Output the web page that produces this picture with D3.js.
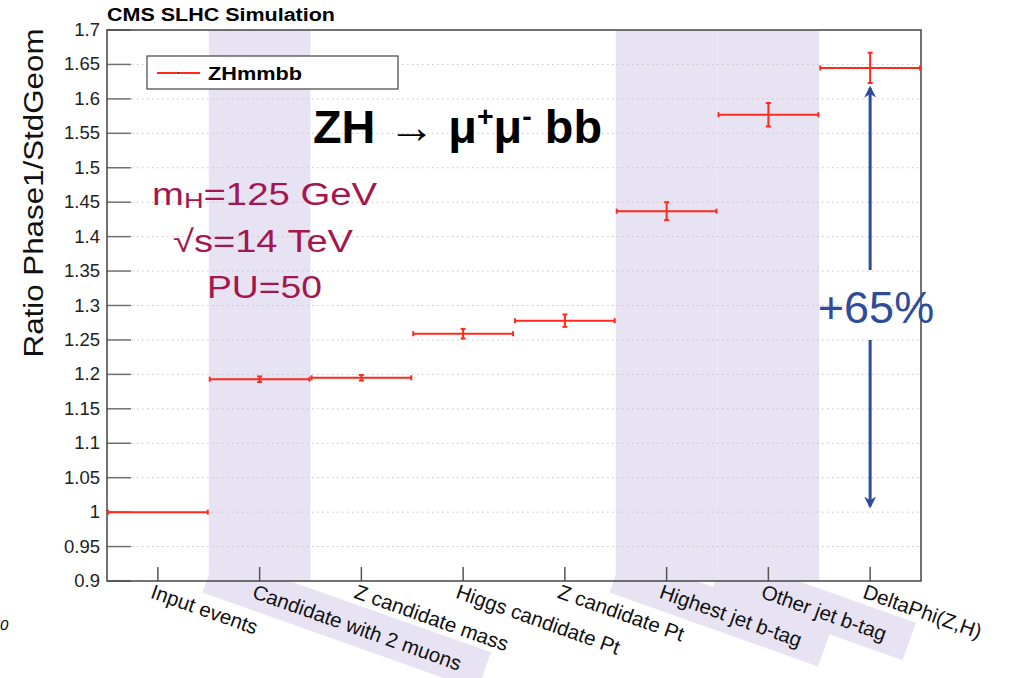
<!DOCTYPE html>
<html>
<head>
<meta charset="utf-8">
<script src="https://cdn.jsdelivr.net/npm/d3@7"></script>
<style>
  body { margin: 0; background: #fff; }
  svg { font-family: "Liberation Sans", Arial, sans-serif; }
</style>
</head>
<body>
<div id="chart"></div>
<script>
// cut-flow steps
const categories = ["Input events", "Candidate with 2 muons", "Z candidate mass",
  "Higgs candidate Pt", "Z candidate Pt", "Highest jet b-tag", "Other jet b-tag", "DeltaPhi(Z,H)"];
const ratio = [1.0, 1.193, 1.195, 1.259, 1.278, 1.437, 1.577, 1.645];
const ratioErr = [0.0, 0.004, 0.004, 0.007, 0.009, 0.013, 0.017, 0.022];
const shaded = ["Candidate with 2 muons", "Highest jet b-tag", "Other jet b-tag"];
const yTicks = [0.9, 0.95, 1, 1.05, 1.1, 1.15, 1.2, 1.25, 1.3, 1.35, 1.4, 1.45, 1.5, 1.55, 1.6, 1.65, 1.7];

var W = 1012, H = 678;
var plotL = 107, plotR = 921, plotT = 30, plotB = 581;
var red = "#ff2a1a", band = "#e7e3f3", blue = "#2f4c9a", crimson = "#a3174e";

var svg = d3.select("#chart").append("svg")
    .attr("width", W)
    .attr("height", H);

var x = d3.scaleBand().domain(categories).range([plotL, plotR]).padding(0);
var y = d3.scaleLinear().domain([0.9, 1.7]).range([plotB, plotT]);
var angle = 19.5;
var cx = function (d) { return x(d) + x.bandwidth() / 2; };

var bandLayer = svg.append("g");
var gridLayer = svg.append("g");

// x labels (drawn first so their lengths are known for the shading)
var xl = svg.append("g").selectAll("text")
    .data(categories)
    .enter().append("text")
    .attr("transform", function (d) {
        return "translate(" + (cx(d) - 3) + "," + (plotB + 1) + ") rotate(" + angle + ")";
    })
    .attr("dy", "0.8em")
    .attr("font-size", 20.5)
    .attr("fill", "#111")
    .text(function (d) { return d; });

var labelLen = {};
xl.each(function (d) { labelLen[d] = this.getComputedTextLength(); });

// shaded bands (plot area + behind rotated labels)
shaded.forEach(function (c) {
    bandLayer.append("rect")
        .attr("x", x(c)).attr("y", plotT)
        .attr("width", x.bandwidth()).attr("height", plotB - plotT)
        .attr("fill", band);
    bandLayer.append("rect")
        .attr("transform", "translate(" + cx(c) + "," + plotB + ") rotate(" + angle + ")")
        .attr("x", -50).attr("y", -10)
        .attr("width", labelLen[c] + 72).attr("height", 40)
        .attr("fill", band);
});

// grid
gridLayer.selectAll("line")
    .data(yTicks.slice(1, -1))
    .enter().append("line")
    .attr("x1", plotL).attr("x2", plotR)
    .attr("y1", function (d) { return y(d); })
    .attr("y2", function (d) { return y(d); })
    .attr("stroke", "#c4c4c4")
    .attr("stroke-width", 1)
    .attr("stroke-dasharray", "1.5,3.5");

// y tick marks
svg.append("g").selectAll("line")
    .data(yTicks)
    .enter().append("line")
    .attr("x1", plotL).attr("x2", plotL + 24)
    .attr("y1", function (d) { return y(d); })
    .attr("y2", function (d) { return y(d); })
    .attr("stroke", "#707070").attr("stroke-width", 1.5);

// y labels
svg.append("g").selectAll("text")
    .data(yTicks)
    .enter().append("text")
    .attr("x", plotL - 7)
    .attr("y", function (d) { return y(d) + 6; })
    .attr("text-anchor", "end")
    .attr("font-size", 18.5)
    .attr("fill", "#222")
    .text(function (d) { return String(+d.toFixed(2)); });

// x ticks
svg.append("g").selectAll("line")
    .data(categories)
    .enter().append("line")
    .attr("x1", cx).attr("x2", cx)
    .attr("y1", plotB).attr("y2", plotB - 14)
    .attr("stroke", "#555").attr("stroke-width", 1.5);

// frame
svg.append("rect")
    .attr("x", plotL).attr("y", plotT)
    .attr("width", plotR - plotL).attr("height", plotB - plotT)
    .attr("fill", "none").attr("stroke", "#444").attr("stroke-width", 1.5);

// data: horizontal bin lines + error bars
var pts = svg.append("g").selectAll("g")
    .data(categories)
    .enter().append("g")
    .attr("stroke", red).attr("stroke-width", 2);

pts.append("line")
    .attr("x1", function (d) { return x(d) + 1; })
    .attr("x2", function (d) { return x(d) + x.bandwidth() - 1; })
    .attr("y1", function (d, i) { return y(ratio[i]); })
    .attr("y2", function (d, i) { return y(ratio[i]); });

[0, 1].forEach(function (side) {
    pts.append("line")
        .attr("x1", function (d) { return x(d) + 1 + side * (x.bandwidth() - 2); })
        .attr("x2", function (d) { return x(d) + 1 + side * (x.bandwidth() - 2); })
        .attr("y1", function (d, i) { return y(ratio[i]) - 2.5; })
        .attr("y2", function (d, i) { return y(ratio[i]) + 2.5; });
});

pts.append("line")
    .attr("x1", cx).attr("x2", cx)
    .attr("y1", function (d, i) { return y(ratio[i] + ratioErr[i]); })
    .attr("y2", function (d, i) { return y(ratio[i] - ratioErr[i]); });

pts.each(function (d, i) {
    if (ratioErr[i] === 0) return;
    var g = d3.select(this);
    [ratio[i] + ratioErr[i], ratio[i] - ratioErr[i]].forEach(function (v) {
        g.append("line")
            .attr("x1", cx(d) - 2.5).attr("x2", cx(d) + 2.5)
            .attr("y1", y(v)).attr("y2", y(v));
    });
});

// title
svg.append("text")
    .attr("x", plotL).attr("y", 21)
    .attr("font-size", 18).attr("font-weight", "bold")
    .attr("textLength", 228).attr("lengthAdjust", "spacingAndGlyphs")
    .text("CMS SLHC Simulation");

// y axis title
svg.append("text")
    .attr("transform", "translate(43,193) rotate(-90)")
    .attr("text-anchor", "middle")
    .attr("font-size", 27)
    .attr("fill", "#111")
    .attr("textLength", 329).attr("lengthAdjust", "spacingAndGlyphs")
    .text("Ratio Phase1/StdGeom");

// legend
var lg = svg.append("g");
lg.append("rect")
    .attr("x", 147).attr("y", 56).attr("width", 251).attr("height", 33)
    .attr("fill", "#fff").attr("stroke", "#444").attr("stroke-width", 1.2);
lg.append("line")
    .attr("x1", 157).attr("x2", 200).attr("y1", 73).attr("y2", 73)
    .attr("stroke", red).attr("stroke-width", 2);
lg.append("line")
    .attr("x1", 178.5).attr("x2", 178.5).attr("y1", 72).attr("y2", 74)
    .attr("stroke", "#333").attr("stroke-width", 1);
lg.append("text")
    .attr("x", 208).attr("y", 80)
    .attr("font-size", 18).attr("font-weight", "bold")
    .attr("textLength", 94).attr("lengthAdjust", "spacingAndGlyphs")
    .text("ZHmmbb");

// process label
var proc = svg.append("text")
    .attr("x", 313).attr("y", 143)
    .attr("font-size", 46).attr("font-weight", "bold")
    .attr("fill", "#000")
    .attr("textLength", 289).attr("lengthAdjust", "spacingAndGlyphs");
proc.append("tspan").text("ZH ");
proc.append("tspan").attr("font-weight", "normal").text("\u2192");
proc.append("tspan").text(" \u03bc");
proc.append("tspan").attr("dy", -17).attr("font-size", 28).text("+");
proc.append("tspan").attr("dy", 17).text("\u03bc");
proc.append("tspan").attr("dy", -17).attr("font-size", 28).text("-");
proc.append("tspan").attr("dy", 17).text(" bb");

// conditions
var cond = svg.append("g").attr("fill", crimson).attr("font-size", 31).attr("text-anchor", "middle");
var c1 = cond.append("text").attr("x", 264.5).attr("y", 205)
    .attr("textLength", 225).attr("lengthAdjust", "spacingAndGlyphs");
c1.append("tspan").text("m");
c1.append("tspan").attr("font-size", 22).attr("dy", 3).text("H");
c1.append("tspan").attr("dy", -3).text("=125 GeV");
cond.append("text").attr("x", 263).attr("y", 252)
    .attr("textLength", 180).attr("lengthAdjust", "spacingAndGlyphs")
    .text("\u221as=14 TeV");
cond.append("text").attr("x", 264.5).attr("y", 298)
    .attr("textLength", 115).attr("lengthAdjust", "spacingAndGlyphs")
    .text("PU=50");

// +65% arrow
var ax = cx(categories[7]);
var yTop = y(ratio[7] - ratioErr[7]) + 5, yBot = y(ratio[0]) - 6;
svg.append("defs").append("marker")
    .attr("id", "ah").attr("viewBox", "0 0 10 10")
    .attr("refX", 8).attr("refY", 5)
    .attr("markerWidth", 4).attr("markerHeight", 4)
    .attr("orient", "auto")
    .append("path").attr("d", "M0,0 L10,5 L0,10 L3,5 Z").attr("fill", blue);
svg.append("line")
    .attr("x1", ax).attr("x2", ax).attr("y1", 270).attr("y2", yTop)
    .attr("stroke", blue).attr("stroke-width", 3).attr("marker-end", "url(#ah)");
svg.append("line")
    .attr("x1", ax).attr("x2", ax).attr("y1", 340).attr("y2", yBot)
    .attr("stroke", blue).attr("stroke-width", 3).attr("marker-end", "url(#ah)");
svg.append("text")
    .attr("x", 876).attr("y", 323)
    .attr("text-anchor", "middle")
    .attr("font-size", 45).attr("fill", blue)
    .text("+" + Math.round((ratio[7] - ratio[0]) * 100) + "%");

// stray glyph at the left edge
svg.append("text")
    .attr("x", 0).attr("y", 630)
    .attr("font-size", 15).attr("font-style", "italic")
    .text("0");
</script>
</body>
</html>
